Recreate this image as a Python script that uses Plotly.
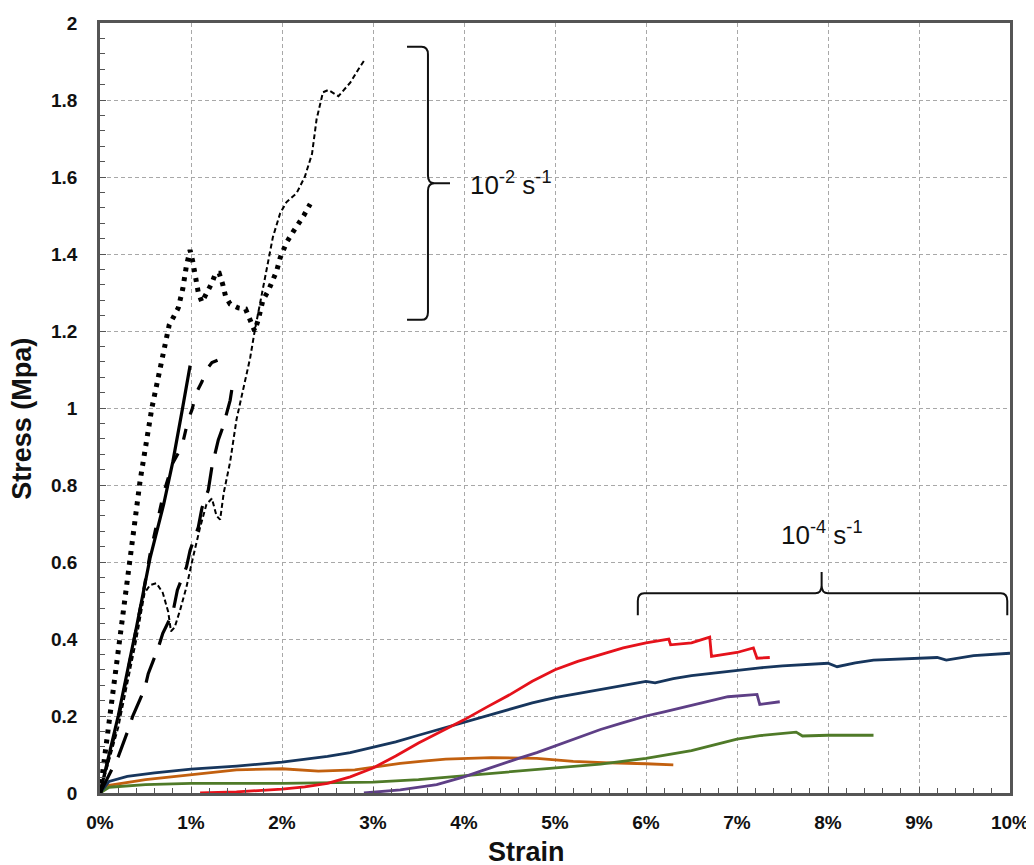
import plotly.graph_objects as go

# ---------------- data (strain in %, stress in MPa) ----------------
# 10^-2 s^-1 (black curves)
solid_x = [0, 0.2, 0.4, 0.55, 0.7, 0.8, 0.9, 0.99]
solid_y = [0, 0.2, 0.43, 0.61, 0.75, 0.86, 0.99, 1.11]

dotted_x = [0, 0.05, 0.1, 0.2, 0.33, 0.44, 0.57, 0.68, 0.76, 0.86, 0.91, 0.95, 0.99,
            1.02, 1.04, 1.08, 1.12, 1.18, 1.23, 1.27, 1.31, 1.35, 1.38, 1.43, 1.52,
            1.60, 1.65, 1.70, 1.74, 1.79, 1.85, 1.90, 1.94, 1.98, 2.05, 2.12, 2.19,
            2.24, 2.31]
dotted_y = [0, 0.09, 0.19, 0.37, 0.60, 0.81, 1.00, 1.13, 1.215, 1.26, 1.31, 1.37, 1.41,
            1.38, 1.35, 1.30, 1.275, 1.30, 1.325, 1.35, 1.35, 1.32, 1.29, 1.27, 1.26,
            1.257, 1.23, 1.20, 1.23, 1.28, 1.305, 1.33, 1.355, 1.39, 1.43, 1.457, 1.48,
            1.50, 1.53]

shortdash_x = [0, 0.2, 0.4, 0.49, 0.55, 0.62, 0.69, 0.75, 0.78, 0.82, 0.88, 0.95, 1.02,
               1.10, 1.17, 1.23, 1.28, 1.32, 1.36, 1.43, 1.50, 1.58, 1.65, 1.70, 1.75,
               1.83, 1.90, 1.98, 2.05, 2.16, 2.25, 2.33, 2.38, 2.45, 2.51, 2.62, 2.75,
               2.84, 2.91]
shortdash_y = [0, 0.17, 0.40, 0.52, 0.54, 0.545, 0.52, 0.47, 0.42, 0.43, 0.475, 0.535, 0.61,
               0.69, 0.75, 0.765, 0.72, 0.71, 0.78, 0.86, 0.97, 1.06, 1.13, 1.20, 1.26,
               1.36, 1.444, 1.506, 1.535, 1.558, 1.60, 1.66, 1.75, 1.82, 1.826, 1.81, 1.845,
               1.88, 1.905]

longdash_x = [0, 0.1, 0.2, 0.31, 0.36, 0.49, 0.53, 0.64, 0.69, 0.80, 0.85, 0.95, 0.99,
              1.08, 1.12, 1.19, 1.23, 1.30, 1.35, 1.43, 1.46, 1.50]
longdash_y = [0, 0.045, 0.094, 0.164, 0.2, 0.27, 0.31, 0.377, 0.415, 0.468, 0.527, 0.587,
              0.63, 0.69, 0.74, 0.787, 0.847, 0.917, 0.95, 1.02, 1.065, 1.078]

meddash_x = [0, 0.2, 0.46, 0.55, 0.70, 0.80, 0.90, 0.97, 1.01, 1.06, 1.12, 1.17, 1.23, 1.30]
meddash_y = [0, 0.19, 0.50, 0.62, 0.78, 0.857, 0.90, 0.97, 0.995, 1.04, 1.068, 1.10, 1.118, 1.125]

# 10^-4 s^-1 (coloured curves)
navy_x = [0, 0.1, 0.3, 0.6, 1.0, 1.5, 2.0, 2.25, 2.5, 2.75, 3.0, 3.25, 3.5, 3.75, 4.0,
          4.25, 4.5, 4.75, 5.0, 5.25, 5.5, 5.75, 6.0, 6.1, 6.3, 6.5, 6.75, 7.0, 7.25,
          7.5, 7.75, 8.0, 8.1, 8.3, 8.5, 8.75, 9.0, 9.2, 9.3, 9.6, 10.0]
navy_y = [0, 0.03, 0.043, 0.052, 0.062, 0.07, 0.08, 0.087, 0.095, 0.105, 0.118, 0.133,
          0.15, 0.167, 0.185, 0.202, 0.218, 0.234, 0.248, 0.259, 0.268, 0.279, 0.29, 0.286,
          0.297, 0.305, 0.312, 0.318, 0.325, 0.33, 0.334, 0.337, 0.328, 0.338, 0.345, 0.348,
          0.35, 0.352, 0.345, 0.357, 0.363]

red_x = [1.1, 1.5, 2.0, 2.25, 2.5, 2.75, 3.0, 3.25, 3.5, 3.75, 4.0, 4.25, 4.5, 4.75, 5.0,
         5.25, 5.5, 5.75, 6.0, 6.25, 6.27, 6.5, 6.7, 6.72, 7.0, 7.18, 7.22, 7.36]
red_y = [0, 0.003, 0.01, 0.016, 0.025, 0.042, 0.065, 0.096, 0.13, 0.16, 0.19, 0.223, 0.255,
         0.29, 0.32, 0.342, 0.36, 0.377, 0.39, 0.40, 0.385, 0.39, 0.405, 0.355, 0.365, 0.377,
         0.35, 0.352]

purple_x = [2.9, 3.3, 3.7, 4.0, 4.2, 4.4, 4.6, 4.8, 5.0, 5.2, 5.5, 5.75, 6.0, 6.2, 6.4,
            6.65, 6.9, 7.22, 7.25, 7.47]
purple_y = [0, 0.008, 0.022, 0.042, 0.058, 0.075, 0.09, 0.105, 0.122, 0.14, 0.165, 0.183,
            0.2, 0.211, 0.222, 0.237, 0.25, 0.256, 0.23, 0.237]

green_x = [0, 0.1, 0.5, 1.0, 2.0, 3.0, 3.5, 4.0, 4.5, 5.0, 5.5, 6.0, 6.25, 6.5, 6.75, 7.0,
           7.25, 7.5, 7.65, 7.72, 8.0, 8.5]
green_y = [0, 0.015, 0.022, 0.025, 0.025, 0.028, 0.035, 0.045, 0.055, 0.065, 0.075, 0.09,
           0.1, 0.11, 0.125, 0.14, 0.149, 0.155, 0.158, 0.148, 0.15, 0.15]

orange_x = [0, 0.1, 0.5, 1.0, 1.5, 2.0, 2.4, 2.8, 3.05, 3.3, 3.55, 3.8, 4.3, 4.8, 5.2, 5.6,
            6.0, 6.3]
orange_y = [0, 0.02, 0.035, 0.047, 0.06, 0.063, 0.057, 0.06, 0.068, 0.077, 0.083, 0.088,
            0.092, 0.09, 0.082, 0.078, 0.076, 0.073]

# axis ticks
x_ticks = [0, 1, 2, 3, 4, 5, 6, 7, 8, 9, 10]
x_tick_labels = ["0%", "1%", "2%", "3%", "4%", "5%", "6%", "7%", "8%", "9%", "10%"]
y_ticks = [0, 0.2, 0.4, 0.6, 0.8, 1.0, 1.2, 1.4, 1.6, 1.8, 2.0]
y_tick_labels = ["0", "0.2", "0.4", "0.6", "0.8", "1", "1.2", "1.4", "1.6", "1.8", "2"]
x_title = "Strain"
y_title = "Stress (Mpa)"

# bracket annotations (data coordinates)
fast_label = "10<sup>-2</sup> s<sup>-1</sup>"
slow_label = "10<sup>-4</sup> s<sup>-1</sup>"
# vertical brace: spine x, hook x, nub x, top, mid, bottom
vb_spine, vb_hook, vb_nub = 3.604, 3.374, 3.846
vb_top, vb_mid, vb_bot = 1.938, 1.584, 1.229
# horizontal brace: left, right, mid x, spine y, hook y, nub y
hb_left, hb_right, hb_mid = 5.91, 9.97, 7.93
hb_spine, hb_hook, hb_nub = 0.519, 0.462, 0.574

FONT = "Liberation Sans, Arial, sans-serif"

fig = go.Figure()

def add(x, y, color, width, dash="solid"):
    fig.add_trace(go.Scatter(x=x, y=y, mode="lines",
                             line=dict(color=color, width=width, dash=dash),
                             hoverinfo="skip", showlegend=False))

add(orange_x, orange_y, "#C2600F", 2.8)
add(green_x, green_y, "#4F7A28", 2.8)
add(purple_x, purple_y, "#5E3F86", 2.8)
add(navy_x, navy_y, "#17365D", 2.8)
add(red_x, red_y, "#E5121B", 2.8)

add(longdash_x, longdash_y, "#000000", 3.2, "26px,14px")
add(meddash_x, meddash_y, "#000000", 3.2, "11px,15px")
add(shortdash_x, shortdash_y, "#000000", 2.0, "5px,3px")
add(solid_x, solid_y, "#000000", 3.2)
add(dotted_x, dotted_y, "#000000", 5, "4px,6px")

# ---- braces as paths ----
dxv = 0.07   # curvature size (x, %)
dyv = 0.02   # curvature size (y)
vpath = (f"M {vb_hook},{vb_top} L {vb_spine - dxv},{vb_top} "
         f"Q {vb_spine},{vb_top} {vb_spine},{vb_top - dyv} "
         f"L {vb_spine},{vb_mid + dyv} Q {vb_spine},{vb_mid} {vb_spine + dxv},{vb_mid} "
         f"L {vb_nub},{vb_mid} M {vb_spine + dxv},{vb_mid} "
         f"Q {vb_spine},{vb_mid} {vb_spine},{vb_mid - dyv} "
         f"L {vb_spine},{vb_bot + dyv} Q {vb_spine},{vb_bot} {vb_spine - dxv},{vb_bot} "
         f"L {vb_hook},{vb_bot}")
hpath = (f"M {hb_left},{hb_hook} L {hb_left},{hb_spine - dyv} "
         f"Q {hb_left},{hb_spine} {hb_left + dxv},{hb_spine} "
         f"L {hb_mid - dxv},{hb_spine} Q {hb_mid},{hb_spine} {hb_mid},{hb_spine + dyv} "
         f"L {hb_mid},{hb_nub} M {hb_mid},{hb_spine + dyv} "
         f"Q {hb_mid},{hb_spine} {hb_mid + dxv},{hb_spine} "
         f"L {hb_right - dxv},{hb_spine} Q {hb_right},{hb_spine} {hb_right},{hb_spine - dyv} "
         f"L {hb_right},{hb_hook}")
for p in (vpath, hpath):
    fig.add_shape(type="path", path=p, xref="x", yref="y",
                  line=dict(color="#111111", width=2))

fig.add_annotation(x=vb_nub + 0.2, y=vb_mid, text=fast_label, showarrow=False,
                   xanchor="left", yanchor="middle",
                   font=dict(family=FONT, size=26, color="#111111"))
fig.add_annotation(x=hb_mid, y=hb_nub + 0.1, text=slow_label, showarrow=False,
                   xanchor="center", yanchor="middle",
                   font=dict(family=FONT, size=26, color="#111111"))

# axis titles (placed as annotations, offset like the original)
fig.add_annotation(xref="paper", yref="paper", x=0.469, y=-0.0766,
                   text=f"<b>{x_title}</b>", showarrow=False,
                   xanchor="center", yanchor="middle",
                   font=dict(family=FONT, size=27, color="#111111"))
fig.add_annotation(xref="paper", yref="paper", x=-0.0857, y=0.486,
                   text=f"<b>{y_title}</b>", showarrow=False, textangle=-90,
                   xanchor="center", yanchor="middle",
                   font=dict(family=FONT, size=27, color="#111111"))

axis_common = dict(
    showline=True, linecolor="#555555", linewidth=2.5, mirror=True,
    showgrid=True, gridcolor="#A8A8A8", gridwidth=1, griddash="4px,3px",
    ticks="inside", ticklen=6, tickcolor="#555555", zeroline=False,
    automargin=False,
    tickfont=dict(family=FONT, size=19, color="#111111", weight="bold"),
)

fig.update_xaxes(range=[0, 10], tickmode="array", tickvals=x_ticks, ticktext=x_tick_labels,
                 ticklabelstandoff=10,
                 minor=dict(dtick=0.2, ticks="inside", ticklen=5, tickcolor="#555555",
                            showgrid=False),
                 **axis_common)
fig.update_yaxes(range=[0, 2], tickmode="array", tickvals=y_ticks, ticktext=y_tick_labels,
                 ticklabelstandoff=16,
                 minor=dict(dtick=0.04, ticks="inside", ticklen=5, tickcolor="#555555",
                            showgrid=False),
                 **axis_common)

fig.update_layout(width=1034, height=865,
                  margin=dict(l=92, r=32, t=15, b=80),
                  paper_bgcolor="white", plot_bgcolor="white",
                  showlegend=False)

fig.write_html("out.html")
